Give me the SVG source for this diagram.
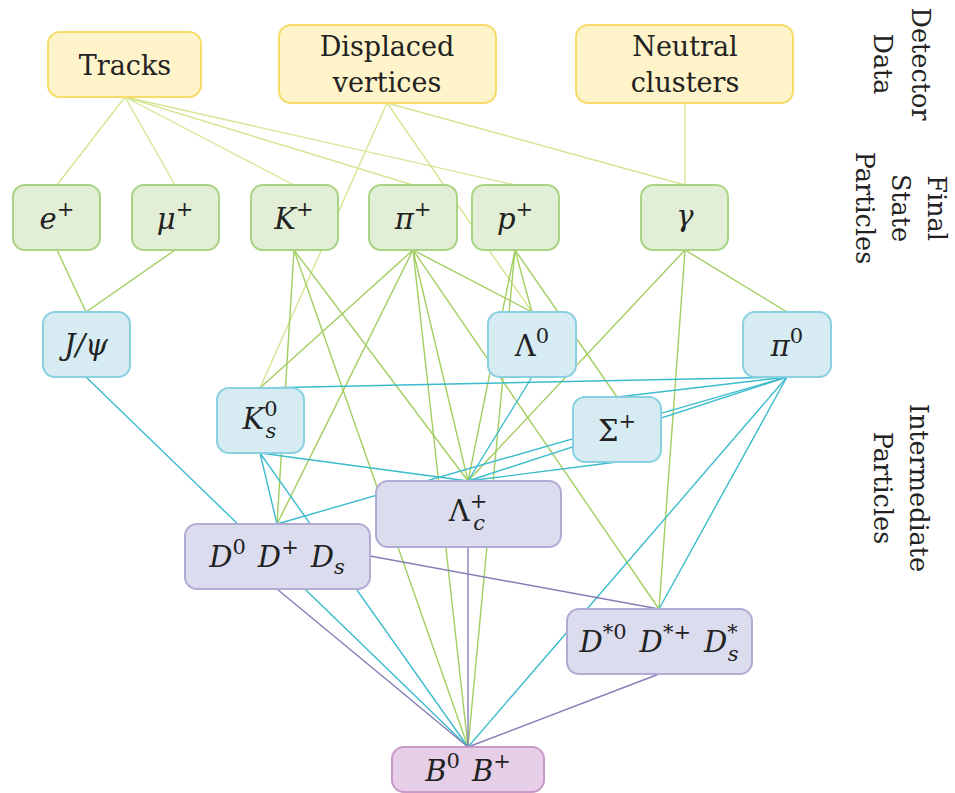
<svg xmlns="http://www.w3.org/2000/svg" width="955" height="793" viewBox="0 0 955 793">
<style>
  .ln { fill:none; stroke-width:1.4; }
  .lt { stroke:#d6e592; }
  .gr { stroke:#a3ce60; }
  .cy { stroke:#3bbccd; }
  .pu { stroke:#877db6; }
  .box { stroke-width:2; }
  .yel { fill:#fef3c9; stroke:#f8dc6a; }
  .grn { fill:#e2efd6; stroke:#aad384; }
  .blu { fill:#d6ecf2; stroke:#8ad0e0; }
  .pur { fill:#dcdcef; stroke:#b2acd4; }
  .bb  { fill:#e6cfe6; stroke:#c79ac7; }
  .lbl { font-family:'DejaVu Serif', 'Liberation Serif', 'Noto Serif', serif; font-size:27px; fill:#222; text-anchor:middle; }
  .side { font-size:25.5px; }
  .m { font-size:29px; }
  .i { font-style:italic; }
  .sm { font-size:21px; }
</style>

<g id="connectors">
  <line class="ln lt" x1="125" y1="97" x2="57" y2="185"/>
  <line class="ln lt" x1="125" y1="97" x2="175" y2="185"/>
  <line class="ln lt" x1="125" y1="97" x2="294" y2="185"/>
  <line class="ln lt" x1="125" y1="97" x2="413" y2="185"/>
  <line class="ln lt" x1="125" y1="97" x2="515" y2="185"/>
  <line class="ln lt" x1="387" y1="103" x2="260" y2="388"/>
  <line class="ln lt" x1="387" y1="103" x2="532" y2="312"/>
  <line class="ln lt" x1="387" y1="103" x2="685" y2="185"/>
  <line class="ln lt" x1="685" y1="103" x2="685" y2="185"/>
  <line class="ln gr" x1="57" y1="250" x2="86" y2="312"/>
  <line class="ln gr" x1="175" y1="250" x2="86" y2="312"/>
  <line class="ln gr" x1="294" y1="250" x2="277" y2="524"/>
  <line class="ln gr" x1="294" y1="250" x2="468" y2="481"/>
  <line class="ln gr" x1="294" y1="250" x2="468" y2="747"/>
  <line class="ln gr" x1="413" y1="250" x2="260" y2="388"/>
  <line class="ln gr" x1="413" y1="250" x2="277" y2="524"/>
  <line class="ln gr" x1="413" y1="250" x2="532" y2="312"/>
  <line class="ln gr" x1="413" y1="250" x2="468" y2="481"/>
  <line class="ln gr" x1="413" y1="250" x2="468" y2="747"/>
  <line class="ln gr" x1="413" y1="250" x2="659" y2="609"/>
  <line class="ln gr" x1="515" y1="250" x2="532" y2="312"/>
  <line class="ln gr" x1="515" y1="250" x2="617" y2="397"/>
  <line class="ln gr" x1="515" y1="250" x2="468" y2="481"/>
  <line class="ln gr" x1="515" y1="250" x2="468" y2="747"/>
  <line class="ln gr" x1="685" y1="250" x2="787" y2="312"/>
  <line class="ln gr" x1="685" y1="250" x2="468" y2="481"/>
  <line class="ln gr" x1="685" y1="250" x2="659" y2="609"/>
  <line class="ln cy" x1="86" y1="377" x2="468" y2="747"/>
  <line class="ln cy" x1="260" y1="453" x2="277" y2="524"/>
  <line class="ln cy" x1="260" y1="453" x2="468" y2="481"/>
  <line class="ln cy" x1="260" y1="453" x2="468" y2="747"/>
  <line class="ln cy" x1="532" y1="377" x2="468" y2="481"/>
  <line class="ln cy" x1="617" y1="462" x2="468" y2="481"/>
  <line class="ln cy" x1="787" y1="377" x2="260" y2="388"/>
  <line class="ln cy" x1="787" y1="377" x2="617" y2="397"/>
  <line class="ln cy" x1="787" y1="377" x2="468" y2="481"/>
  <line class="ln cy" x1="787" y1="377" x2="277" y2="524"/>
  <line class="ln cy" x1="787" y1="377" x2="659" y2="609"/>
  <line class="ln cy" x1="787" y1="377" x2="468" y2="747"/>
  <line class="ln pu" x1="277" y1="589" x2="468" y2="747"/>
  <line class="ln pu" x1="370" y1="556" x2="659" y2="609"/>
  <line class="ln pu" x1="468" y1="547" x2="468" y2="747"/>
  <line class="ln pu" x1="659" y1="674" x2="468" y2="747"/>
</g>

<g id="tracks">
  <rect class="box yel" x="48" y="32" width="153" height="65" rx="12"/>
  <text class="lbl" x="125" y="75">Tracks</text>
</g>
<g id="displaced-vertices">
  <rect class="box yel" x="279" y="25" width="217" height="78" rx="12"/>
  <text class="lbl" x="387" y="56">Displaced</text>
  <text class="lbl" x="387" y="92">vertices</text>
</g>
<g id="neutral-clusters">
  <rect class="box yel" x="576" y="25" width="217" height="78" rx="12"/>
  <text class="lbl" x="685" y="56">Neutral</text>
  <text class="lbl" x="685" y="92">clusters</text>
</g>

<g id="e-plus">
  <rect class="box grn" x="13" y="185" width="87" height="65" rx="12"/>
  <text class="lbl m" x="57" y="229"><tspan class="i">e</tspan><tspan class="sm" dy="-13">+</tspan></text>
</g>
<g id="mu-plus">
  <rect class="box grn" x="132" y="185" width="87" height="65" rx="12"/>
  <text class="lbl m" x="175" y="229"><tspan class="i">μ</tspan><tspan class="sm" dy="-13">+</tspan></text>
</g>
<g id="k-plus">
  <rect class="box grn" x="251" y="185" width="87" height="65" rx="12"/>
  <text class="lbl m" x="294" y="229"><tspan class="i">K</tspan><tspan class="sm" dy="-13">+</tspan></text>
</g>
<g id="pi-plus">
  <rect class="box grn" x="369" y="185" width="88" height="65" rx="12"/>
  <text class="lbl m" x="413" y="229"><tspan class="i">π</tspan><tspan class="sm" dy="-13">+</tspan></text>
</g>
<g id="p-plus">
  <rect class="box grn" x="472" y="185" width="87" height="65" rx="12"/>
  <text class="lbl m" x="515" y="229"><tspan class="i">p</tspan><tspan class="sm" dy="-13">+</tspan></text>
</g>
<g id="gamma">
  <rect class="box grn" x="641" y="185" width="87" height="65" rx="12"/>
  <text class="lbl m i" x="685" y="226">γ</text>
</g>

<g id="j-psi">
  <rect class="box blu" x="43" y="312" width="87" height="65" rx="12"/>
  <text class="lbl m i" x="86" y="355">J/ψ</text>
</g>
<g id="lambda0">
  <rect class="box blu" x="488" y="312" width="88" height="65" rx="12"/>
  <text class="lbl m" x="532" y="356">Λ<tspan class="sm" dy="-13">0</tspan></text>
</g>
<g id="pi0">
  <rect class="box blu" x="743" y="312" width="88" height="65" rx="12"/>
  <text class="lbl m" x="787" y="356"><tspan class="i">π</tspan><tspan class="sm" dy="-13">0</tspan></text>
</g>
<g id="k-short">
  <rect class="box blu" x="217" y="388" width="87" height="65" rx="12"/>
  <text class="lbl m" x="260" y="429"><tspan class="i">K</tspan><tspan class="sm" dy="-13">0</tspan><tspan class="sm i" dx="-12" dy="22">s</tspan></text>
</g>
<g id="sigma-plus">
  <rect class="box blu" x="573" y="397" width="88" height="65" rx="12"/>
  <text class="lbl m" x="617" y="441">Σ<tspan class="sm" dy="-13">+</tspan></text>
</g>
<g id="lambda-c">
  <rect class="box pur" x="376" y="481" width="185" height="66" rx="12"/>
  <text class="lbl m" x="468" y="521">Λ<tspan class="sm" dy="-13">+</tspan><tspan class="sm i" dx="-14" dy="22">c</tspan></text>
</g>
<g id="d-mesons">
  <rect class="box pur" x="185" y="524" width="185" height="65" rx="12"/>
  <text class="lbl m" x="277" y="567"><tspan class="i">D</tspan><tspan class="sm" dy="-13">0</tspan><tspan class="i" dx="12" dy="13">D</tspan><tspan class="sm" dy="-13">+</tspan><tspan class="i" dx="12" dy="13">D</tspan><tspan class="sm i" dy="7">s</tspan></text>
</g>
<g id="d-star-mesons">
  <rect class="box pur" x="567" y="609" width="185" height="65" rx="12"/>
  <text class="lbl m" x="659" y="652"><tspan class="i">D</tspan><tspan class="sm" dy="-13">*0</tspan><tspan class="i" dx="13" dy="13">D</tspan><tspan class="sm" dy="-13">*+</tspan><tspan class="i" dx="13" dy="13">D</tspan><tspan class="sm" dy="-13">*</tspan><tspan class="sm i" dx="-10" dy="22">s</tspan></text>
</g>
<g id="b-mesons">
  <rect class="box bb" x="392" y="747" width="152" height="45" rx="12"/>
  <text class="lbl m" x="468" y="781"><tspan class="i">B</tspan><tspan class="sm" dy="-13">0</tspan><tspan class="i" dx="12" dy="13">B</tspan><tspan class="sm" dy="-13">+</tspan></text>
</g>

<g id="label-detector-data">
  <text class="lbl side" transform="translate(912,64) rotate(90)"><tspan x="0" y="0">Detector</tspan><tspan x="0" y="38">Data</tspan></text>
</g>
<g id="label-final-state">
  <text class="lbl side" transform="translate(928,208) rotate(90)"><tspan x="0" y="0">Final</tspan><tspan x="0" y="36">State</tspan><tspan x="0" y="72">Particles</tspan></text>
</g>
<g id="label-intermediate">
  <text class="lbl side" transform="translate(910,488) rotate(90)"><tspan x="0" y="0">Intermediate</tspan><tspan x="0" y="36">Particles</tspan></text>
</g>
</svg>
